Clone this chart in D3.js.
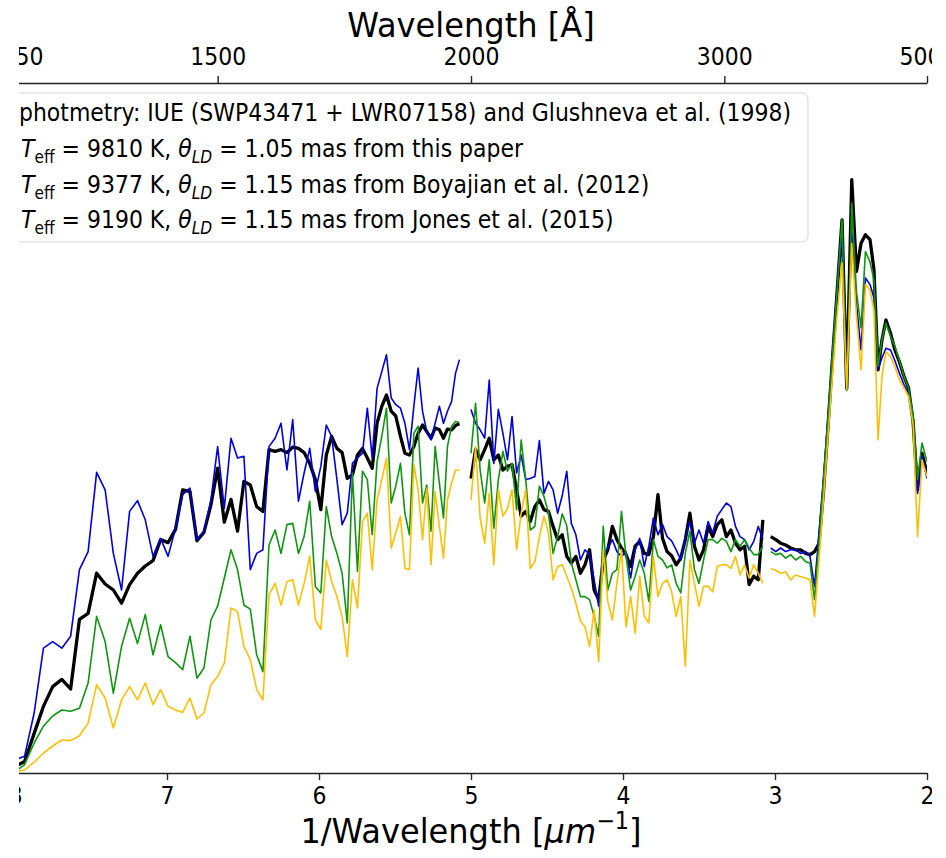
<!DOCTYPE html>
<html>
<head>
<meta charset="utf-8">
<script src="https://cdn.jsdelivr.net/npm/d3@7"></script>
<style>
  body { margin: 0; background: #fff; }
  svg { display: block; font-family: "DejaVu Sans", sans-serif; }
</style>
</head>
<body>
<div class="canvas"></div>
<script>
// x values are 1/wavelength in um^-1, fluxes in arbitrary units

// IUE SWP part (short wavelengths)
const nuA = [8.000, 7.937, 7.874, 7.813, 7.752, 7.692, 7.634, 7.576, 7.519, 7.463,
    7.407, 7.353, 7.299, 7.246, 7.194, 7.143, 7.092, 7.042, 6.993, 6.944,
    6.897, 6.849, 6.803, 6.757, 6.711, 6.667, 6.623, 6.579, 6.536, 6.494,
    6.452, 6.410, 6.369, 6.329, 6.289, 6.250, 6.211, 6.173, 6.135, 6.098,
    6.061, 6.024, 5.988, 5.952, 5.917, 5.882, 5.848, 5.814, 5.780, 5.747,
    5.714, 5.682, 5.650, 5.618, 5.587, 5.556, 5.525, 5.495, 5.464, 5.435,
    5.405, 5.376, 5.348, 5.319, 5.291, 5.263, 5.236, 5.208, 5.181, 5.155,
    5.128, 5.102, 5.076]
const obsA = [0.09, 0.17, 0.64, 1.09, 1.42, 1.54, 1.38, 2.54, 2.64, 3.31,
    3.13, 3.03, 2.81, 3.12, 3.31, 3.43, 3.52, 3.87, 3.82, 4.04,
    4.70, 4.67, 3.85, 3.99, 4.45, 5.06, 4.16, 4.54, 4.01, 4.84,
    4.78, 4.42, 4.34, 5.37, 5.34, 5.37, 5.32, 5.41, 5.39, 5.32,
    5.14, 4.87, 4.37, 5.28, 5.59, 5.39, 5.32, 4.89, 4.95, 5.28,
    5.39, 5.23, 5.06, 5.81, 6.09, 6.28, 6.01, 5.93, 5.59, 5.31,
    5.28, 5.42, 5.64, 5.78, 5.67, 5.56, 5.73, 5.70, 5.56, 5.71,
    5.70, 5.77, 5.80]
const paperA = [0.20, 0.26, 0.98, 2.06, 2.17, 2.06, 2.26, 3.37, 3.67, 4.99,
    4.70, 3.64, 3.03, 4.34, 4.52, 4.20, 3.59, 3.89, 3.59, 4.06,
    4.62, 4.73, 3.87, 4.01, 4.53, 5.42, 4.39, 5.56, 5.23, 5.26,
    3.37, 3.64, 3.70, 5.42, 5.56, 5.81, 5.03, 5.87, 4.51, 4.98,
    5.39, 4.67, 5.09, 5.78, 5.59, 4.87, 4.12, 4.31, 5.14, 5.23,
    5.31, 6.06, 5.23, 6.39, 6.67, 6.95, 6.23, 6.12, 6.06, 5.81,
    5.37, 6.09, 6.73, 6.01, 5.67, 5.53, 5.81, 6.09, 5.81, 6.01,
    6.17, 6.64, 6.87]
const boyA = [0.00, 0.12, 0.48, 0.76, 0.93, 1.03, 1.01, 1.06, 1.48, 2.59,
    2.17, 1.31, 2.09, 2.56, 2.14, 2.62, 1.95, 2.45, 1.92, 1.82,
    1.70, 2.26, 1.56, 1.73, 2.53, 2.76, 3.23, 3.70, 3.37, 2.78,
    2.71, 1.95, 1.67, 3.78, 4.03, 3.64, 4.12, 4.14, 3.64, 3.92,
    4.51, 3.09, 2.98, 4.42, 3.92, 3.64, 3.31, 2.48, 4.98, 3.34,
    5.01, 4.87, 3.95, 5.17, 5.59, 6.06, 4.48, 4.76, 5.14, 4.31,
    3.95, 5.64, 5.76, 4.48, 4.78, 4.01, 5.42, 4.81, 4.23, 5.42,
    5.76, 5.84, 5.82]
const jonesA = [0.00, 0.03, 0.16, 0.31, 0.43, 0.53, 0.52, 0.60, 0.81, 1.45,
    1.23, 0.73, 1.20, 1.42, 1.20, 1.48, 1.12, 1.37, 1.09, 1.03,
    0.99, 1.23, 0.88, 0.98, 1.45, 1.59, 1.81, 2.73, 2.67, 2.09,
    1.87, 1.37, 1.20, 2.95, 3.14, 2.78, 3.17, 3.20, 2.78, 3.14,
    3.59, 2.53, 2.37, 3.53, 3.17, 2.92, 2.59, 1.92, 3.20, 2.73,
    4.17, 4.31, 3.37, 4.53, 4.87, 5.23, 3.73, 3.98, 4.26, 3.39,
    3.37, 5.12, 4.70, 3.87, 4.73, 3.45, 4.67, 4.09, 3.56, 4.53,
    4.81, 5.03, 5.03]

// IUE LWR part
const nuB = [5.00, 4.97, 4.94, 4.91, 4.88, 4.85, 4.82, 4.79, 4.76, 4.73,
    4.70, 4.67, 4.64, 4.61, 4.58, 4.55, 4.52, 4.49, 4.46, 4.43,
    4.40, 4.37, 4.34, 4.31, 4.28, 4.25, 4.22, 4.19, 4.16, 4.13,
    4.10, 4.07, 4.04, 4.01, 3.98, 3.95, 3.92, 3.89, 3.86, 3.83,
    3.80, 3.77, 3.74, 3.71, 3.68, 3.65, 3.62, 3.59, 3.56, 3.53,
    3.50, 3.47, 3.44, 3.41, 3.38, 3.35, 3.32, 3.29, 3.26, 3.23,
    3.20, 3.17, 3.14, 3.11, 3.08]
const obsB = [4.89, 5.37, 5.20, 5.37, 5.56, 5.20, 5.28, 5.03, 5.09, 5.12,
    4.70, 4.26, 4.34, 4.17, 4.42, 4.53, 4.37, 4.34, 4.09, 3.87,
    3.95, 3.59, 3.48, 3.59, 3.31, 3.45, 3.70, 3.03, 2.87, 3.53,
    3.70, 4.09, 3.87, 3.73, 3.62, 3.42, 3.76, 3.84, 3.64, 3.62,
    3.92, 4.62, 3.89, 3.67, 3.60, 3.45, 3.56, 3.87, 4.31, 3.76,
    3.53, 3.70, 4.09, 3.92, 4.12, 4.20, 3.92, 4.03, 3.81, 3.70,
    3.76, 3.12, 3.26, 3.20, 4.20]
const paperB = [6.04, 5.81, 5.70, 5.56, 6.53, 5.14, 6.04, 5.64, 5.20, 5.92,
    4.98, 5.28, 4.87, 4.89, 4.92, 5.52, 4.64, 4.84, 4.70, 4.31,
    4.60, 5.01, 4.14, 3.95, 3.53, 3.70, 3.62, 3.20, 2.76, 3.59,
    3.73, 3.87, 3.67, 3.59, 3.67, 3.23, 3.70, 3.89, 3.42, 3.76,
    4.23, 3.95, 4.12, 3.92, 3.85, 3.70, 3.53, 3.87, 4.17, 3.81,
    4.03, 3.81, 4.17, 3.98, 4.26, 4.37, 4.48, 4.42, 4.09, 3.92,
    3.87, 3.70, 3.84, 4.09, 3.87]
const boyB = [5.31, 6.14, 5.03, 4.48, 5.20, 4.06, 4.87, 5.34, 5.01, 5.14,
    4.37, 5.53, 4.87, 4.03, 4.09, 4.76, 4.59, 4.31, 3.64, 3.92,
    4.30, 4.10, 3.48, 3.20, 2.92, 2.92, 2.87, 2.59, 2.26, 4.09,
    3.03, 3.31, 3.37, 4.34, 3.59, 3.03, 3.26, 3.53, 3.31, 2.84,
    3.87, 3.59, 3.53, 3.40, 3.45, 3.14, 2.98, 3.64, 4.01, 3.37,
    3.14, 3.53, 3.87, 3.87, 3.81, 3.89, 3.84, 3.67, 3.87, 3.76,
    3.87, 3.73, 3.62, 3.62, 3.76]
const jonesB = [4.53, 5.42, 4.23, 3.81, 4.64, 3.45, 4.70, 4.26, 4.39, 4.70,
    3.70, 4.31, 4.70, 3.39, 3.50, 3.92, 4.26, 3.98, 3.20, 3.42,
    3.45, 3.26, 3.06, 2.81, 2.51, 2.42, 2.09, 2.70, 1.84, 3.70,
    2.84, 2.53, 3.14, 3.70, 2.42, 2.92, 2.31, 3.26, 2.59, 2.48,
    3.59, 2.92, 3.14, 3.20, 3.00, 2.59, 2.92, 1.76, 3.53, 3.14,
    2.76, 3.09, 3.09, 3.00, 3.42, 3.45, 3.45, 3.39, 3.59, 3.28,
    3.45, 3.23, 3.45, 3.31, 3.14]

// Glushneva optical part
const nuC = [3.028, 2.995, 2.963, 2.930, 2.897, 2.864, 2.831, 2.798, 2.770, 2.740,
    2.711, 2.681, 2.651, 2.622, 2.592, 2.559, 2.528, 2.495, 2.464, 2.434,
    2.405, 2.375, 2.349, 2.322, 2.296, 2.270, 2.240, 2.211, 2.181, 2.151,
    2.122, 2.092, 2.062, 2.033, 2.000]
const obsC = [3.92, 3.87, 3.81, 3.78, 3.73, 3.70, 3.70, 3.64, 3.62, 3.67,
    3.80, 4.67, 5.77, 6.88, 7.98, 9.20, 6.39, 9.87, 8.34, 8.81,
    8.95, 8.87, 8.37, 6.70, 7.20, 7.53, 7.31, 7.03, 6.83, 6.59,
    6.40, 5.85, 4.70, 5.31, 4.98]
const paperC = [3.73, 3.67, 3.73, 3.67, 3.70, 3.70, 3.64, 3.67, 3.59, 3.09,
    3.95, 4.90, 5.90, 6.95, 8.00, 9.00, 6.40, 9.00, 7.80, 7.03,
    8.23, 8.12, 7.90, 6.70, 6.90, 7.06, 7.03, 6.85, 6.64, 6.45,
    6.31, 5.85, 4.64, 5.26, 4.89]
const boyC = [3.67, 3.62, 3.64, 3.56, 3.62, 3.53, 3.59, 3.50, 3.48, 2.87,
    3.80, 4.85, 5.90, 6.95, 8.00, 9.20, 6.35, 9.48, 8.00, 7.40,
    8.67, 8.50, 8.20, 6.76, 7.20, 7.48, 7.26, 7.09, 6.85, 6.59,
    6.40, 5.95, 4.87, 5.48, 5.17]
const jonesC = [3.39, 3.36, 3.31, 3.33, 3.20, 3.28, 3.25, 3.23, 3.20, 2.59,
    3.50, 4.55, 5.60, 6.60, 7.60, 8.48, 6.37, 8.81, 7.60, 6.70,
    8.12, 8.03, 7.70, 5.53, 6.60, 7.00, 6.92, 6.75, 6.53, 6.40,
    6.26, 5.80, 3.92, 5.20, 4.92]

const invTicks = [8, 7, 6, 5, 4, 3, 2]
const waveTicks = [1250, 1500, 2000, 3000, 5000]

const obsLabel = 'Spectrophotmetry: IUE (SWP43471 + LWR07158) and Glushneva et al. (1998)'
const teffs = [9810, 9377, 9190]
const thetas = ['1.05', '1.15', '1.15']
const sources = ['this paper', 'Boyajian et al. (2012)', 'Jones et al. (2015)']

const width = 946
const height = 858
const plot = { left: 15, right: 927, top: 83, bottom: 773 }
// text in the picture is a bit narrower than plain DejaVu Sans
const squeeze = 0.86

const svg = d3.select('.canvas').append('svg')
    .attr('width', width)
    .attr('height', height)

const defs = svg.append('defs')
// the picture is cut on both sides
defs.append('clipPath').attr('id', 'view')
    .append('rect')
    .attr('x', 19).attr('y', 0)
    .attr('width', 913).attr('height', height)
defs.append('clipPath').attr('id', 'axes')
    .append('rect')
    .attr('x', plot.left).attr('y', plot.top)
    .attr('width', plot.right - plot.left)
    .attr('height', plot.bottom - plot.top)

const x = d3.scaleLinear()
    .domain([8, 2])
    .range([plot.left, plot.right])

const y = d3.scaleLinear()
    .domain([-0.02, 11.48])
    .range([plot.bottom, plot.top])

const root = svg.append('g').attr('clip-path', 'url(#view)')
const graph = root.append('g').attr('clip-path', 'url(#axes)')

const series = [
    { color: '#000000', width: 3.3, parts: [[nuA, obsA], [nuB, obsB], [nuC, obsC]] },
    { color: '#0000e0', width: 1.6, parts: [[nuA, paperA], [nuB, paperB], [nuC, paperC]] },
    { color: '#0f960f', width: 1.6, parts: [[nuA, boyA], [nuB, boyB], [nuC, boyC]] },
    { color: '#ffbf00', width: 1.6, parts: [[nuA, jonesA], [nuB, jonesB], [nuC, jonesC]] }
]

const line = d3.line()
    .x((d) => x(d[0]))
    .y((d) => y(d[1]))

series.forEach((s) => {
    graph.selectAll(null)
        .data(s.parts)
        .enter()
        .append('path')
        .attr('d', (p) => line(d3.zip(p[0], p[1])))
        .attr('fill', 'none')
        .attr('stroke', s.color)
        .attr('stroke-width', s.width)
        .attr('stroke-linejoin', 'round')
})

// axes
const xAxis = d3.axisBottom(x)
    .tickValues(invTicks)
    .tickFormat(d3.format('d'))
    .tickSizeInner(7)
    .tickSizeOuter(0)
    .tickPadding(6)

const topAxis = d3.axisTop(x)
    .tickValues(waveTicks.map((w) => 1e4 / w))
    .tickFormat((d, i) => waveTicks[i])
    .tickSizeInner(7)
    .tickSizeOuter(0)
    .tickPadding(11)

const xAxisGroup = root.append('g')
    .attr('transform', `translate(0, ${plot.bottom})`)
    .call(xAxis)
const topAxisGroup = root.append('g')
    .attr('transform', `translate(0, ${plot.top})`)
    .call(topAxis)

;[xAxisGroup, topAxisGroup].forEach((g) => {
    g.attr('font-family', '"DejaVu Sans", sans-serif').attr('font-size', 22 / squeeze)
    g.select('.domain').attr('stroke', '#222').attr('stroke-width', 1.6)
    g.selectAll('.tick line').attr('stroke', '#222').attr('stroke-width', 1.4)
    g.selectAll('.tick text')
        .attr('fill', '#000')
        .attr('transform', `scale(${squeeze}, 1)`)
})

// axis titles
const cx = (plot.left + plot.right) / 2
root.append('text')
    .attr('transform', `translate(${cx}, 37) scale(0.93, 1)`)
    .attr('text-anchor', 'middle')
    .attr('font-size', 34.5)
    .text('Wavelength [Å]')

const xLabel = root.append('text')
    .attr('transform', `translate(${cx}, 843) scale(0.93, 1)`)
    .attr('text-anchor', 'middle')
    .attr('font-size', 34.5)
xLabel.append('tspan').text('1/Wavelength [')
xLabel.append('tspan').attr('font-style', 'italic').text('μm')
xLabel.append('tspan').attr('font-size', 24).attr('dy', -14).text('−1')
xLabel.append('tspan').attr('dy', 14).text(']')

// legend
root.append('rect')
    .attr('x', -20)
    .attr('y', 93)
    .attr('width', 828)
    .attr('height', 149)
    .attr('rx', 6)
    .attr('fill', '#fff')
    .attr('fill-opacity', 0.8)
    .attr('stroke', '#cccccc')
    .attr('stroke-opacity', 0.8)

const fs = 22 / squeeze
const legend = root.append('g').attr('font-size', fs).attr('fill', '#000')

legend.append('text')
    .attr('transform', `translate(791, 121) scale(${squeeze}, 1)`)
    .attr('text-anchor', 'end')
    .text(obsLabel)

teffs.forEach((t, i) => {
    const row = legend.append('text')
        .attr('transform', `translate(21, ${157 + i * 35.7}) scale(${squeeze}, 1)`)
    row.append('tspan').attr('font-style', 'italic').text('T')
    row.append('tspan').attr('font-size', fs * 0.7).attr('dy', 6).text('eff')
    row.append('tspan').attr('dy', -6).text(` = ${t} K, `)
    row.append('tspan').attr('font-style', 'italic').text('θ')
    row.append('tspan').attr('font-style', 'italic').attr('font-size', fs * 0.7).attr('dy', 6).text('LD')
    row.append('tspan').attr('dy', -6).text(` = ${thetas[i]} mas from ${sources[i]}`)
})
</script>
</body>
</html>
